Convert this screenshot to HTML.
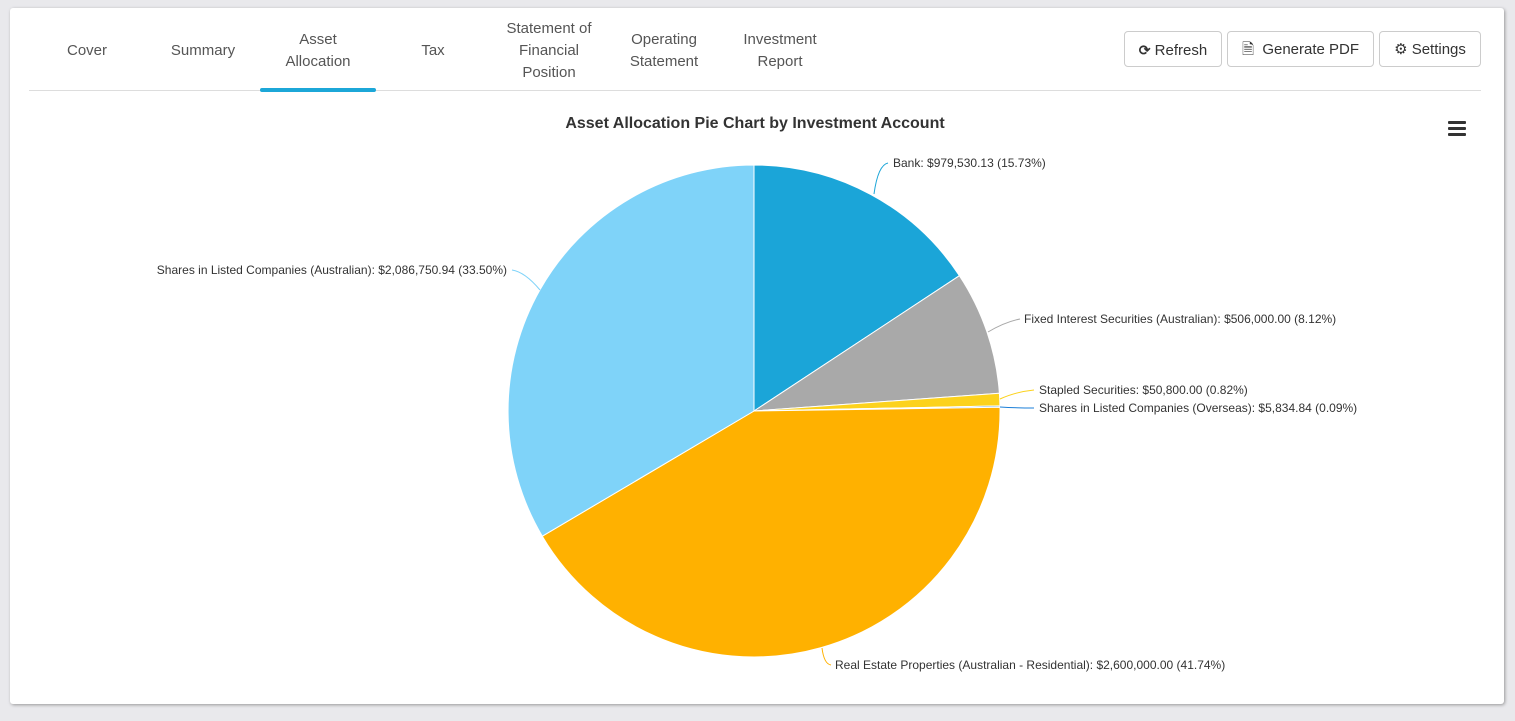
<!DOCTYPE html>
<html><head><meta charset="utf-8"><style>
body{margin:0;width:1515px;height:721px;background:#e9e9ec;font-family:"Liberation Sans",sans-serif;position:relative;overflow:hidden}
.card{position:absolute;left:10px;top:8px;width:1494px;height:696px;background:#fff;border-radius:3px;box-shadow:1px 1px 3px rgba(0,0,0,.35)}
.tab{position:absolute;color:#555;font-size:15px;text-align:center;line-height:22px}
.btn{position:absolute;top:31px;height:36px;border:1px solid #ccc;border-radius:4px;font-size:15px;color:#333;line-height:36px;box-sizing:border-box;text-align:center}
</style></head><body>
<div class="card"></div>
<div class="tab" style="left:47px;width:80px;top:40px">Cover</div>
<div class="tab" style="left:160px;width:86px;top:40px">Summary</div>
<div class="tab" style="left:270px;width:96px;top:29px">Asset<br>Allocation</div>
<div class="tab" style="left:400px;width:66px;top:40px">Tax</div>
<div class="tab" style="left:490px;width:118px;top:18px">Statement of<br>Financial<br>Position</div>
<div class="tab" style="left:614px;width:100px;top:29px">Operating<br>Statement</div>
<div class="tab" style="left:730px;width:100px;top:29px">Investment<br>Report</div>
<div style="position:absolute;left:29px;top:90px;width:1452px;height:1px;background:#ddd"></div>
<div style="position:absolute;left:260px;top:88px;width:116px;height:4px;background:#1ca7d8;border-radius:2px"></div>
<div class="btn" style="left:1124px;width:98px"><b style="font-size:14px">⟳</b> Refresh</div>
<div class="btn" style="left:1227px;width:147px">🗎&nbsp; Generate PDF</div>
<div class="btn" style="left:1379px;width:102px">⚙ Settings</div>
<svg style="position:absolute;left:0;top:0" width="1515" height="721">
<text x="755" y="128" text-anchor="middle" font-size="16" font-weight="bold" fill="#333">Asset Allocation Pie Chart by Investment Account</text>
<g fill="#333"><rect x="1448" y="121" width="18" height="3" rx="1"/><rect x="1448" y="127" width="18" height="3" rx="1"/><rect x="1448" y="133" width="18" height="3" rx="1"/></g>
<g stroke="#fff" stroke-width="1" stroke-linejoin="round">
<path d="M754,411 L754,165 A246,246 0 0 1 959.4,275.7 Z" fill="#1ba5d8"/>
<path d="M754,411 L959.4,275.7 A246,246 0 0 1 999.4,393.2 Z" fill="#a9a9a9"/>
<path d="M754,411 L999.4,393.2 A246,246 0 0 1 999.9,405.9 Z" fill="#fcd21c"/>
<path d="M754,411 L999.9,405.9 A246,246 0 0 1 1000,407.3 Z" fill="#1b7fd8"/>
<path d="M754,411 L1000,407.3 A246,246 0 0 1 542.3,536.2 Z" fill="#ffb100"/>
<path d="M754,411 L542.3,536.2 A246,246 0 0 1 754,165 Z" fill="#7fd3f9"/>
</g>
<g fill="none" stroke-width="1">
<path d="M874,194 Q878,165 888,163" stroke="#1ba5d8"/>
<path d="M988,332 Q1005,322 1020,319" stroke="#a9a9a9"/>
<path d="M1000,399 Q1015,392 1034,390" stroke="#fcd21c"/>
<path d="M1000,407 Q1015,408 1034,408" stroke="#1b7fd8"/>
<path d="M822,648 Q824,664 831,665" stroke="#ffb100"/>
<path d="M540,290 Q525,272 512,270" stroke="#7fd3f9"/>
</g>
<g font-size="12" fill="#333">
<text x="893" y="167">Bank: $979,530.13 (15.73%)</text>
<text x="1024" y="323">Fixed Interest Securities (Australian): $506,000.00 (8.12%)</text>
<text x="1039" y="394">Stapled Securities: $50,800.00 (0.82%)</text>
<text x="1039" y="412">Shares in Listed Companies (Overseas): $5,834.84 (0.09%)</text>
<text x="835" y="669">Real Estate Properties (Australian - Residential): $2,600,000.00 (41.74%)</text>
<text x="507" y="274" text-anchor="end">Shares in Listed Companies (Australian): $2,086,750.94 (33.50%)</text>
</g>
</svg>
</body></html>
